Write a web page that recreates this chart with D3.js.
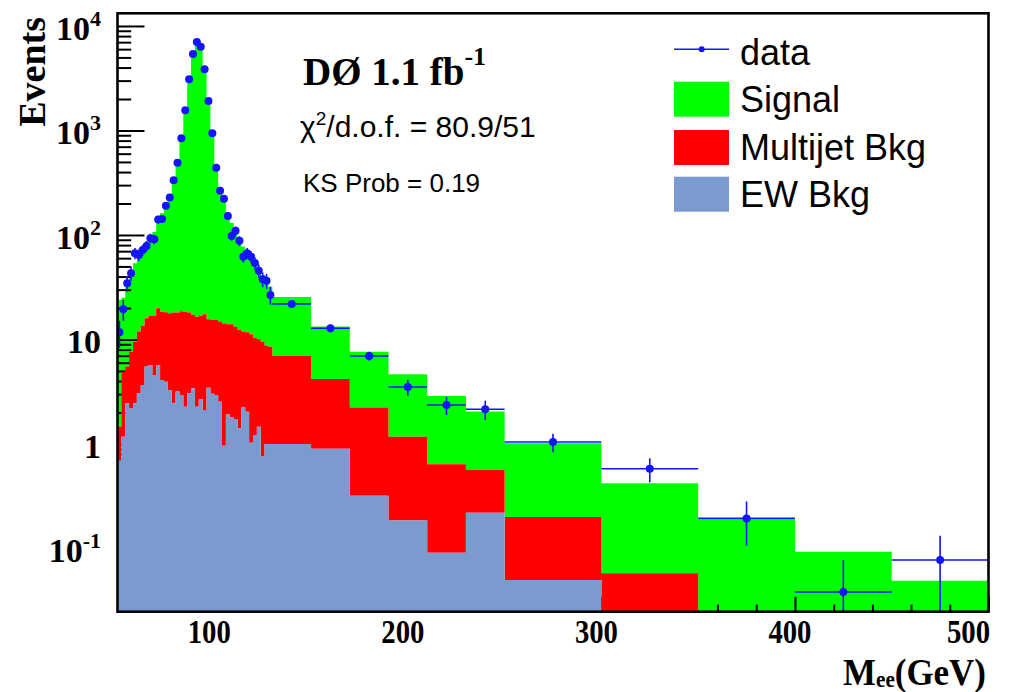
<!DOCTYPE html>
<html>
<head>
<meta charset="utf-8">
<script src="https://cdn.jsdelivr.net/npm/d3@7"></script>
<style>
  html, body { margin: 0; padding: 0; background: #fff; }
  svg { display: block; }
</style>
</head>
<body>
<svg id="chart" width="1018" height="692"></svg>
<script>
// Di-electron invariant mass spectrum, log scale, stacked MC + data points.

// Bin edges in GeV: 2 GeV bins across the Z peak, wider bins in the tail.
const binEdges = [50,52,54,56,58,60,62,64,66,68,70,72,74,76,78,80,82,84,86,88,90,
  92,94,96,98,100,102,104,106,108,110,112,114,116,118,120,122,124,126,128,130,
  150,170,190,210,230,250,300,350,400,450,500];

// Electroweak background (events per 2 GeV)
const ewBkg = [0.70,1.17,2.45,2.19,2.45,3.06,3.67,5.5,5.7,4.57,5.7,4.1,3.95,3.28,2.45,3.17,2.94,2.27,3.06,3.41,
  2.27,2.69,2.11,3.46,3.03,2.94,2.54,0.96,1.92,1.79,1.73,1.41,2.24,2.04,1.03,1.22,1.46,0.76,1.0,1.0,
  1.0,0.90,0.32,0.185,0.091,0.22,0.050,0,0,0,0];

// Multijet background
const multijetBkg = [0.76,3.75,3.05,5.41,7.05,8.84,9.83,10.5,11.2,12.3,14.2,14.3,14.25,14.5,15.65,15.0,15.7,16.1,15.1,13.8,
  14.2,14.2,15.3,12.2,12.3,12.4,12.3,13.3,12.1,12.2,11.5,10.9,9.7,9.7,10.2,9.1,8.6,8.7,7.7,7.5,
  5.95,3.29,1.92,0.985,0.55,0.344,0.15,0.058,0,0,0];

// Z/gamma* -> ee signal
const signalMC = [22.5,20.1,29.5,35.4,44,52.6,58.3,70,81.1,90.1,119,143,177,223,317,506,851,1602,3232,5483,
  6614,6323,4083,1954,965,418,275,203,147,116,89.8,77.2,65.1,55.3,50.8,45.3,37.9,31.9,29.8,23.5,
  18.6,9.11,5.41,3.47,2.24,1.48,0.815,0.362,0.19,0.093,0.049];

// Observed data and statistical uncertainty
const dataCounts = [11.7,19.5,34.5,43,66.8,64.4,71.8,78.5,93,91,141,142,190,228,334,492,842,1560,3090,5400,
  7030,6340,3850,1915,940,441,265,222,152,98,110,88,62,67,62,54,45.5,37.7,36.5,26.7,
  21.9,12.8,6.95,3.51,2.36,2.15,1.045,0.58,0.194,0.0384,0.0776];
const dataErrors = [3.4,4.4,5.9,6.6,8.2,8.0,8.5,8.9,9.6,9.5,11.9,11.9,13.8,15.1,18.3,22.2,29,39.5,55.6,73.5,
  83.8,79.6,62,43.8,30.7,21,16.3,14.9,12.3,9.9,10.5,9.4,7.9,8.2,7.9,7.3,6.7,6.1,6.0,5.2,
  1.45,1.1,0.7,0.6,0.47,0.45,0.21,0.15,0.088,0.039,0.055];

const xMajorTicks = [100,200,300,400,500];
const yMajorTicks = [0.1,1,10,100,1000,10000];
const yTickLabels = [["10","-1"],["1",""],["10",""],["10","2"],["10","3"],["10","4"]];
const legendLabels = ["data","Signal","Multijet Bkg","EW Bkg"];

const colors = { signal: "#00ff00", multijet: "#ff0000", ew: "#7b9ad0", data: "#1414ff" };
const serif = "'Liberation Serif','Times New Roman',serif";
const sans = "'Liberation Sans',Arial,Helvetica,sans-serif";

const frame = { left: 117.5, right: 988.5, top: 13.3, bottom: 611.7 };
const yMin = 0.02484, yMax = 13220;

const x = d3.scaleLinear().domain([50, 500]).range([frame.left, frame.right]);
const y = d3.scaleLog().domain([yMin, yMax]).range([frame.bottom, frame.top]).clamp(true);
const yy = v => y(Math.max(v, yMin));

const svg = d3.select("#chart");
svg.append("defs").append("clipPath").attr("id", "plotclip")
  .append("rect").attr("x", frame.left).attr("y", frame.top)
  .attr("width", frame.right - frame.left).attr("height", frame.bottom - frame.top);

const rows = binEdges.slice(0, -1).map((lo, i) => ({
  lo, hi: binEdges[i + 1],
  ew: ewBkg[i], multijet: multijetBkg[i], signal: signalMC[i],
  data: dataCounts[i], err: dataErrors[i]
}));

const stacked = d3.stack().keys(["ew", "multijet", "signal"])(rows);
const layerByKey = {};
stacked.forEach(l => layerByKey[l.key] = l);

const area = d3.area()
  .x(d => x(d.x))
  .y0(d => yy(d.y0))
  .y1(d => yy(d.y1));

// each bin becomes a flat step from its low to its high edge
function stepPoints(layer) {
  return layer.flatMap(s => [
    { x: s.data.lo, y0: s[0], y1: s[1] },
    { x: s.data.hi, y0: s[0], y1: s[1] }
  ]);
}

function drawLayer(key) {
  svg.append("path")
    .attr("d", area(stepPoints(layerByKey[key])))
    .attr("fill", colors[key])
    .attr("clip-path", "url(#plotclip)");
}

// signal first, then the tick marks, then the backgrounds over them
drawLayer("signal");

const yMinor = y.ticks().filter(v => !yMajorTicks.includes(v) && v >= yMin && v <= yMax);
const xMinor = x.ticks(25).filter(v => !xMajorTicks.includes(v));
const ticks = svg.append("g");
[
  [d3.axisLeft(y).tickValues(yMajorTicks).tickSize(-27), `translate(${frame.left},0)`],
  [d3.axisLeft(y).tickValues(yMinor).tickSize(-13.7), `translate(${frame.left},0)`],
  [d3.axisBottom(x).tickValues(xMajorTicks).tickSize(-15), `translate(0,${frame.bottom})`],
  [d3.axisBottom(x).tickValues(xMinor).tickSize(-7), `translate(0,${frame.bottom})`]
].forEach(([ax, tr]) => {
  const g = ticks.append("g").attr("transform", tr).call(ax.tickFormat(""));
  g.select(".domain").remove();
  g.selectAll("line").attr("stroke", "#000").attr("stroke-width", 2);
});

drawLayer("multijet");
drawLayer("ew");

// data points with error bars
const dataG = svg.append("g").attr("clip-path", "url(#plotclip)");
rows.forEach(r => {
  const cx = x((r.lo + r.hi) / 2);
  dataG.append("line")
    .attr("x1", x(r.lo)).attr("x2", x(r.hi))
    .attr("y1", yy(r.data)).attr("y2", yy(r.data))
    .attr("stroke", colors.data).attr("stroke-width", 1.6);
  dataG.append("line")
    .attr("x1", cx).attr("x2", cx)
    .attr("y1", yy(r.data - r.err)).attr("y2", yy(r.data + r.err))
    .attr("stroke", colors.data).attr("stroke-width", 1.6);
  dataG.append("circle")
    .attr("cx", cx).attr("cy", yy(r.data)).attr("r", 4)
    .attr("fill", colors.data);
});

// frame
svg.append("rect")
  .attr("x", frame.left).attr("y", frame.top)
  .attr("width", frame.right - frame.left).attr("height", frame.bottom - frame.top)
  .attr("fill", "none").attr("stroke", "#000").attr("stroke-width", 2.6);

// x tick labels (narrow bold serif; the last one kept inside the frame edge)
svg.append("g").selectAll("text").data(xMajorTicks).join("text")
  .attr("transform", (d, i) => {
    const last = i === xMajorTicks.length - 1;
    const px = last ? 990 : x(d) - 5;
    return `translate(${px},643) scale(0.87,1)`;
  })
  .attr("text-anchor", (d, i) => i === xMajorTicks.length - 1 ? "end" : "middle")
  .attr("font-family", serif).attr("font-weight", "bold").attr("font-size", 33)
  .text(d => d);

// y tick labels with exponents
const yLab = svg.append("g");
yMajorTicks.forEach((v, i) => {
  const [base, exp] = yTickLabels[i];
  const t = yLab.append("text")
    .attr("x", 101).attr("y", y(v) + 14)
    .attr("text-anchor", "end")
    .attr("font-family", serif).attr("font-weight", "bold").attr("font-size", 34);
  t.append("tspan").text(base);
  if (exp) t.append("tspan").attr("font-size", 22).attr("dy", -14).text(exp);
});

// axis titles
const xt = svg.append("text")
  .attr("transform", "translate(986,685) scale(0.92,1)")
  .attr("text-anchor", "end")
  .attr("font-family", serif).attr("font-weight", "bold").attr("font-size", 38);
xt.append("tspan").text("M");
xt.append("tspan").attr("font-size", 23).attr("dy", 2).text("ee");
xt.append("tspan").attr("dy", -2).text("(GeV)");

svg.append("text")
  .attr("transform", "translate(45,17) rotate(-90)")
  .attr("text-anchor", "end")
  .attr("font-family", serif).attr("font-weight", "bold").attr("font-size", 38)
  .text("Events");

// annotations
const d0 = svg.append("text")
  .attr("x", 303).attr("y", 85)
  .attr("font-family", serif).attr("font-weight", "bold").attr("font-size", 39);
d0.append("tspan").text("DØ 1.1 fb");
d0.append("tspan").attr("font-size", 26).attr("dy", -20).text("-1");

const chi = svg.append("text")
  .attr("x", 300).attr("y", 137)
  .attr("font-family", sans).attr("font-size", 30);
chi.append("tspan").text("χ");
chi.append("tspan").attr("font-size", 19).attr("dy", -12).text("2");
chi.append("tspan").attr("dy", 12).text("/d.o.f. = 80.9/51");

svg.append("text")
  .attr("x", 303).attr("y", 191.5)
  .attr("font-family", sans).attr("font-size", 26)
  .text("KS Prob = 0.19");

// legend
const legend = svg.append("g");
const legendRows = [
  { label: legendLabels[0], type: "data", base: 65 },
  { label: legendLabels[1], type: "box", color: colors.signal, base: 111.7 },
  { label: legendLabels[2], type: "box", color: colors.multijet, base: 160 },
  { label: legendLabels[3], type: "box", color: colors.ew, base: 206.7 }
];
legendRows.forEach(r => {
  if (r.type === "data") {
    legend.append("line").attr("x1", 674).attr("x2", 729)
      .attr("y1", r.base - 15.7).attr("y2", r.base - 15.7)
      .attr("stroke", colors.data).attr("stroke-width", 1.6);
    legend.append("circle").attr("cx", 701.7).attr("cy", r.base - 15.7).attr("r", 3)
      .attr("fill", colors.data);
  } else {
    legend.append("rect").attr("x", 674).attr("y", r.base - 30)
      .attr("width", 55).attr("height", 35).attr("fill", r.color);
  }
  legend.append("text").attr("x", 740).attr("y", r.base)
    .attr("font-family", sans).attr("font-size", 36).text(r.label);
});
</script>
</body>
</html>
